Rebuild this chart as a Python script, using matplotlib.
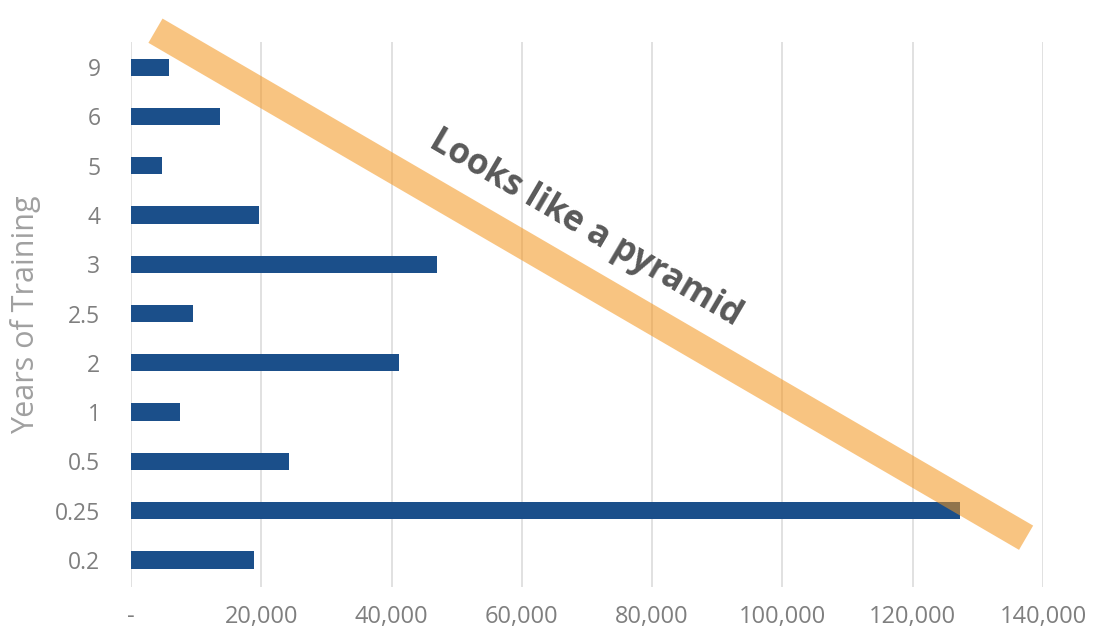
import numpy as np
import matplotlib.pyplot as plt

# headcount by years of training (bottom to top)
years = ['0.2', '0.25', '0.5', '1', '2', '2.5', '3', '4', '5', '6', '9']
counts = [18900, 127300, 24200, 7600, 41100, 9500, 46900, 19700, 4800, 13600, 5900]

x_ticks = [0, 20000, 40000, 60000, 80000, 100000, 120000, 140000]
x_tick_labels = ['-', '20,000', '40,000', '60,000', '80,000', '100,000', '120,000', '140,000']

# diagonal highlight band, from top-left to bottom-right (x value, category position)
band_x = [3760, 137400]
band_y = [10.74, 0.45]
note = 'Looks like a pyramid'

plt.rcParams['font.family'] = ['Open Sans', 'DejaVu Sans']

fig = plt.figure(figsize=(10.97, 6.31), dpi=100)
ax = fig.add_axes([0.1194, 0.0697, 0.8314, 0.8637])

pos = np.arange(len(years))
ax.barh(pos, counts, height=0.35, color='#1b4f8a', zorder=2)

ax.plot(band_x, band_y, color='#f4941a', alpha=0.55, linewidth=20.2,
        solid_capstyle='butt', zorder=3, clip_on=False)
ax.text(69700, 6.72, note, rotation=-30.4, rotation_mode='anchor',
        ha='center', va='center', fontsize=25, fontweight='bold',
        color='#595959', zorder=4)

ax.set_xlim(0, 140000)
ax.set_ylim(-0.55, 10.51)
ax.set_xticks(x_ticks)
ax.set_xticklabels(x_tick_labels)
ax.set_yticks(pos)
ax.set_yticklabels(years)
ax.tick_params(axis='both', length=0, labelcolor='#7f7f7f')
ax.tick_params(axis='x', pad=13, labelsize=17)
ax.tick_params(axis='y', pad=22, labelsize=16.5)
ax.set_ylabel('Years of Training', fontsize=22, color='#a0a0a0', labelpad=10)

ax.grid(axis='x', color='#dcdcdc', linewidth=1.2, zorder=0)
ax.set_axisbelow(True)
for spine in ax.spines.values():
    spine.set_visible(False)

fig.savefig('out.png', dpi=100)
